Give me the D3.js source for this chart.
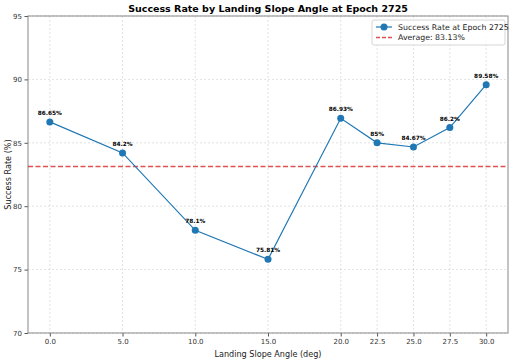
<!DOCTYPE html>
<html>
<head>
<meta charset="utf-8">
<script src="https://cdn.jsdelivr.net/npm/d3@7"></script>
<style>
  body { margin: 0; background: #fff; }
  svg { font-family: "DejaVu Sans", sans-serif; }
</style>
</head>
<body>
<div id="chart"></div>
<script>
// chart data
var angles = [0.0, 5.0, 10.0, 15.0, 20.0, 22.5, 25.0, 27.5, 30.0];
var rates = [86.65, 84.2, 78.1, 75.81, 86.93, 85, 84.67, 86.2, 89.58];
var pointLabels = ["86.65%", "84.2%", "78.1%", "75.81%", "86.93%", "85%", "84.67%", "86.2%", "89.58%"];
var average = 83.13;
var yTicks = [70, 75, 80, 85, 90, 95];
var legendLabels = ["Success Rate at Epoch 2725", "Average: 83.13%"];

var W = 512, H = 361;
var margin = { top: 16, right: 4, bottom: 28, left: 28 },
    width = W - margin.left - margin.right,
    height = H - margin.top - margin.bottom;

var svg = d3.select("#chart")
    .append("svg")
    .attr("width", W)
    .attr("height", H);

var g = svg.append("g")
    .attr("transform", "translate(" + margin.left + "," + margin.top + ")");

var x = d3.scaleLinear().domain([-1.5, 31.5]).range([0, width]);
var y = d3.scaleLinear().domain([70, 95]).range([height, 0]);

// grid
g.append("g").selectAll("line")
    .data(angles).enter().append("line")
    .attr("x1", d => x(d)).attr("x2", d => x(d))
    .attr("y1", 0).attr("y2", height)
    .attr("stroke", "#b0b0b0").attr("stroke-width", 0.6)
    .attr("stroke-dasharray", "2,2").attr("opacity", 0.6);
g.append("g").selectAll("line")
    .data(yTicks).enter().append("line")
    .attr("x1", 0).attr("x2", width)
    .attr("y1", d => y(d)).attr("y2", d => y(d))
    .attr("stroke", "#b0b0b0").attr("stroke-width", 0.6)
    .attr("stroke-dasharray", "2,2").attr("opacity", 0.6);

// axes
var xAxis = g.append("g")
    .attr("transform", "translate(0," + height + ")")
    .call(d3.axisBottom(x).tickValues(angles).tickFormat(d3.format(".1f")).tickSize(3.5).tickPadding(2.5));
var yAxis = g.append("g")
    .call(d3.axisLeft(y).tickValues(yTicks).tickSize(3.5).tickPadding(2.5));
[xAxis, yAxis].forEach(function (a) {
    a.selectAll("text").attr("font-size", 7).attr("fill", "#333").attr("font-family", "DejaVu Sans");
    a.selectAll("line").attr("stroke", "#555");
    a.select(".domain").remove();
});

// frame
g.append("rect")
    .attr("width", width).attr("height", height)
    .attr("fill", "none").attr("stroke", "#888").attr("stroke-width", 1);

// average line
g.append("line")
    .attr("x1", 0).attr("x2", width)
    .attr("y1", y(average)).attr("y2", y(average))
    .attr("stroke", "#d62728").attr("stroke-width", 1.3)
    .attr("stroke-dasharray", "5,2.5").attr("opacity", 0.8);

// line + points
var line = d3.line().x((d, i) => x(angles[i])).y(d => y(d));
g.append("path")
    .datum(rates)
    .attr("d", line)
    .attr("fill", "none")
    .attr("stroke", "#1f77b4")
    .attr("stroke-width", 1.2);

g.append("g").selectAll("circle")
    .data(rates).enter().append("circle")
    .attr("cx", (d, i) => x(angles[i]))
    .attr("cy", d => y(d))
    .attr("r", 3.5)
    .attr("fill", "#1f77b4");

g.append("g").selectAll("text")
    .data(rates).enter().append("text")
    .attr("x", (d, i) => x(angles[i]))
    .attr("y", d => y(d) - 7)
    .attr("text-anchor", "middle")
    .attr("font-size", 5.8)
    .attr("font-weight", "bold")
    .attr("fill", "#000")
    .text((d, i) => pointLabels[i]);

// title + axis labels
svg.append("text")
    .attr("x", margin.left + width / 2).attr("y", 12)
    .attr("text-anchor", "middle")
    .attr("font-size", 9.5).attr("font-weight", "bold")
    .text("Success Rate by Landing Slope Angle at Epoch 2725");
svg.append("text")
    .attr("x", margin.left + width / 2).attr("y", H - 4)
    .attr("text-anchor", "middle")
    .attr("font-size", 8.1).attr("fill", "#222")
    .text("Landing Slope Angle (deg)");
svg.append("text")
    .attr("transform", "translate(11," + (margin.top + height / 2) + ") rotate(-90)")
    .attr("text-anchor", "middle")
    .attr("font-size", 8.1).attr("fill", "#222")
    .text("Success Rate (%)");

// legend
var lg = g.append("g").attr("transform", "translate(" + (width - 136) + ",4)");
lg.append("rect")
    .attr("width", 133).attr("height", 25).attr("rx", 2)
    .attr("fill", "#fff").attr("fill-opacity", 0.8)
    .attr("stroke", "#ccc").attr("stroke-width", 0.8);
lg.append("line").attr("x1", 4).attr("x2", 20).attr("y1", 7).attr("y2", 7)
    .attr("stroke", "#1f77b4").attr("stroke-width", 1.2);
lg.append("circle").attr("cx", 12).attr("cy", 7).attr("r", 3.5).attr("fill", "#1f77b4");
lg.append("line").attr("x1", 4).attr("x2", 20).attr("y1", 17.5).attr("y2", 17.5)
    .attr("stroke", "#d62728").attr("stroke-width", 1.3)
    .attr("stroke-dasharray", "4,2").attr("opacity", 0.8);
lg.selectAll("text.lab")
    .data(legendLabels).enter().append("text")
    .attr("class", "lab")
    .attr("x", 26).attr("y", (d, i) => 9.8 + i * 10.5)
    .attr("font-size", 7.8).attr("fill", "#222")
    .text(d => d);
</script>
</body>
</html>
